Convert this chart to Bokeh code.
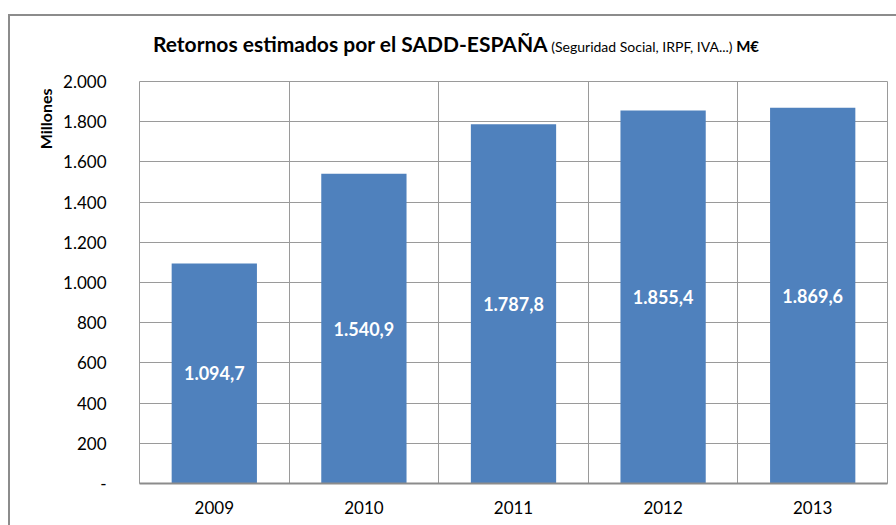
from bokeh.plotting import figure
from bokeh.models import ColumnDataSource, FixedTicker, Range1d, Label, Title, Div
from bokeh.layouts import column
from bokeh.embed import file_html
from bokeh.resources import INLINE

years = ["2009", "2010", "2011", "2012", "2013"]
values = [1094.7, 1540.9, 1787.8, 1855.4, 1869.6]
y_ticks = [0, 200, 400, 600, 800, 1000, 1200, 1400, 1600, 1800, 2000]

FONT = "Lato"
BAR = "#4F81BD"
GRID = "#9a9a9a"


def es_num(v, dec=0):
    s = f"{v:,.{dec}f}"
    return s.replace(",", "X").replace(".", ",").replace("X", ".")


xs = [i + 0.5 for i in range(len(years))]
src = ColumnDataSource(dict(x=xs, top=values))

title = Div(text='<div style="width:886px;text-align:center;white-space:nowrap;font-family:Lato;'
                 'color:black;padding-top:13px;padding-left:6px;box-sizing:border-box">'
                 '<span style="font-size:21px;font-weight:bold">Retornos estimados por el SADD-ESPAÑA</span>'
                 '<span style="font-size:14px"> (Seguridad Social, IRPF, IVA...) </span>'
                 '<span style="font-size:15px;font-weight:bold">M€</span></div>',
            width=886, height=55, margin=0)

p = figure(width=886, height=454, output_backend="svg", toolbar_location=None,
           x_range=Range1d(0, len(years)), y_range=Range1d(0, 2000),
           min_border_left=129, min_border_right=9, min_border_top=10, min_border_bottom=42,
           margin=0)
p.outline_line_color = GRID
p.background_fill_color = "white"
p.border_fill_color = "white"

p.vbar(x="x", top="top", width=0.57, bottom=0, source=src, fill_color=BAR, line_color=None)

for x, v in zip(xs, values):
    p.add_layout(Label(x=x, y=v / 2, text=es_num(v, 1), text_align="center",
                       text_baseline="middle", text_color="white", text_font=FONT,
                       text_font_size="18px", text_font_style="bold"))

p.xaxis.ticker = FixedTicker(ticks=xs)
p.xaxis.major_label_overrides = {x: y for x, y in zip(xs, years)}
p.xaxis.major_tick_line_color = None
p.xaxis.minor_tick_line_color = None
p.xaxis.axis_line_color = "#8c8c8c"
p.xaxis.axis_line_width = 2
p.xaxis.major_label_text_font = FONT
p.xaxis.major_label_text_font_size = "17px"
p.xaxis.major_label_text_color = "black"
p.xaxis.major_label_standoff = 11

p.yaxis.ticker = FixedTicker(ticks=y_ticks)
p.yaxis.major_label_overrides = {t: ("-" if t == 0 else es_num(t)) for t in y_ticks}
p.yaxis.major_tick_line_color = None
p.yaxis.minor_tick_line_color = None
p.yaxis.axis_line_color = None
p.yaxis.major_label_text_font = FONT
p.yaxis.major_label_text_font_size = "17px"
p.yaxis.major_label_text_color = "black"
p.yaxis.major_label_standoff = 27

p.add_layout(Title(text="Millones", align="right", offset=7, standoff=12, text_font=FONT,
                   text_font_size="16px", text_font_style="bold", text_color="black"), "left")

p.ygrid.ticker = FixedTicker(ticks=y_ticks)
p.ygrid.grid_line_color = GRID
p.xgrid.ticker = FixedTicker(ticks=list(range(1, len(years))))
p.xgrid.grid_line_color = GRID

layout = column(title, p, spacing=0)
layout.styles = {"border-top": "2px solid #8c8c8c", "border-left": "2px solid #8c8c8c",
                 "margin-top": "14px", "margin-left": "8px", "background": "white"}

open("out.html", "w").write(file_html(layout, INLINE))
